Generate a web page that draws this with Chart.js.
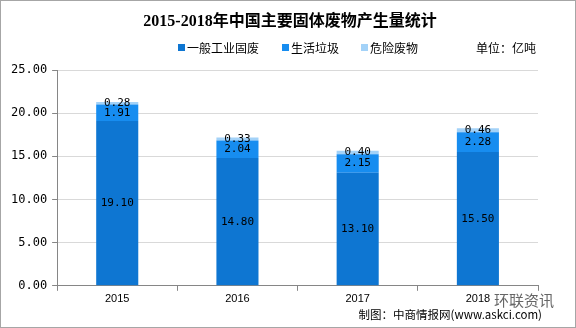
<!DOCTYPE html>
<html>
<head>
<meta charset="utf-8">
<script src="https://cdn.jsdelivr.net/npm/chart.js@4"></script>
<style>
  html, body { margin: 0; padding: 0; background: #fff; }
  #wrap { width: 576px; height: 328px; }
</style>
</head>
<body>
<div id="wrap"><canvas id="chart" width="576" height="328"></canvas></div>
<script>
// Data
const years = ['2015', '2016', '2017', '2018'];
const industrial = [19.10, 14.80, 13.10, 15.50];
const household = [1.91, 2.04, 2.15, 2.28];
const hazardous = [0.28, 0.33, 0.40, 0.46];
const seriesNames = ['一般工业固废', '生活垃圾', '危险废物'];
const seriesColors = ['#0e76d2', '#178df0', '#a3d2f8'];
const yTicks = [0, 5, 10, 15, 20, 25];

const cjk = '"Noto Sans CJK SC", "Noto Sans", sans-serif';
const mono = '"DejaVu Sans Mono", monospace';

// Labels inside each segment
const segmentLabels = {
    id: 'segmentLabels',
    afterDatasetsDraw(chart) {
        const ctx = chart.ctx;
        ctx.save();
        ctx.font = '11px ' + mono;
        ctx.fillStyle = '#000';
        ctx.textAlign = 'center';
        ctx.textBaseline = 'middle';
        chart.data.datasets.forEach((ds, i) => {
            chart.getDatasetMeta(i).data.forEach((bar, j) => {
                const y = (bar.y + bar.base) / 2;
                ctx.fillText(ds.data[j].toFixed(2), bar.x, y);
            });
        });
        ctx.restore();
    }
};

// Title, legend, unit, footer, frame
const extras = {
    id: 'extras',
    afterDraw(chart) {
        const ctx = chart.ctx;
        ctx.save();
        ctx.fillStyle = '#000';
        ctx.textBaseline = 'middle';
        ctx.textAlign = 'center';
        ctx.font = 'bold 16px "Liberation Serif", "Noto Sans CJK SC", serif';
        ctx.fillText('2015-2018年中国主要固体废物产生量统计', 290, 22);

        // legend
        const legendX = [178, 282, 361];
        ctx.font = '12px ' + cjk;
        ctx.textAlign = 'left';
        seriesNames.forEach((name, i) => {
            ctx.fillStyle = seriesColors[i];
            ctx.fillRect(legendX[i], 44, 7, 7);
            ctx.fillStyle = '#000';
            ctx.fillText(name, legendX[i] + 9, 48);
        });
        ctx.fillText('单位：亿吨', 476, 48);

        ctx.textAlign = 'right';
        ctx.font = '11.5px ' + cjk;
        ctx.fillText('制图：中商情报网(www.askci.com)', 542, 315);
        ctx.fillStyle = '#666';
        ctx.font = '15px ' + cjk;
        ctx.textAlign = 'left';
        ctx.fillText('环联资讯', 494, 300);
        ctx.strokeStyle = '#a6a6a6';
        ctx.lineWidth = 1;
        ctx.strokeRect(0.5, 0.5, 575, 327);
        ctx.restore();
    }
};

new Chart(document.getElementById('chart'), {
    type: 'bar',
    data: {
        labels: years,
        datasets: seriesNames.map((name, i) => ({
            label: name,
            data: [industrial, household, hazardous][i],
            backgroundColor: seriesColors[i]
        }))
    },
    options: {
        responsive: false,
        animation: false,
        barPercentage: 0.7,
        categoryPercentage: 0.5,
        layout: { padding: { left: 6, right: 38, top: 70, bottom: 20 } },
        plugins: {
            title: { display: false },
            legend: { display: false },
            tooltip: { enabled: false }
        },
        scales: {
            x: {
                stacked: true,
                border: { color: '#868686' },
                grid: { drawOnChartArea: false, drawTicks: true, tickLength: 5, tickColor: '#868686', offset: true },
                ticks: { color: '#000', font: { family: '"Liberation Sans", Arial, sans-serif', size: 11 }, padding: 2 }
            },
            y: {
                stacked: true,
                min: 0,
                max: 25,
                afterBuildTicks(axis) { axis.ticks = yTicks.map(v => ({ value: v })); },
                border: { color: '#868686' },
                grid: { color: '#d9d9d9', tickColor: '#868686', tickLength: 5 },
                ticks: {
                    color: '#000',
                    padding: 5,
                    font: { family: mono, size: 12 },
                    callback: v => v.toFixed(2)
                }
            }
        }
    },
    plugins: [segmentLabels, extras]
});
</script>
</body>
</html>
